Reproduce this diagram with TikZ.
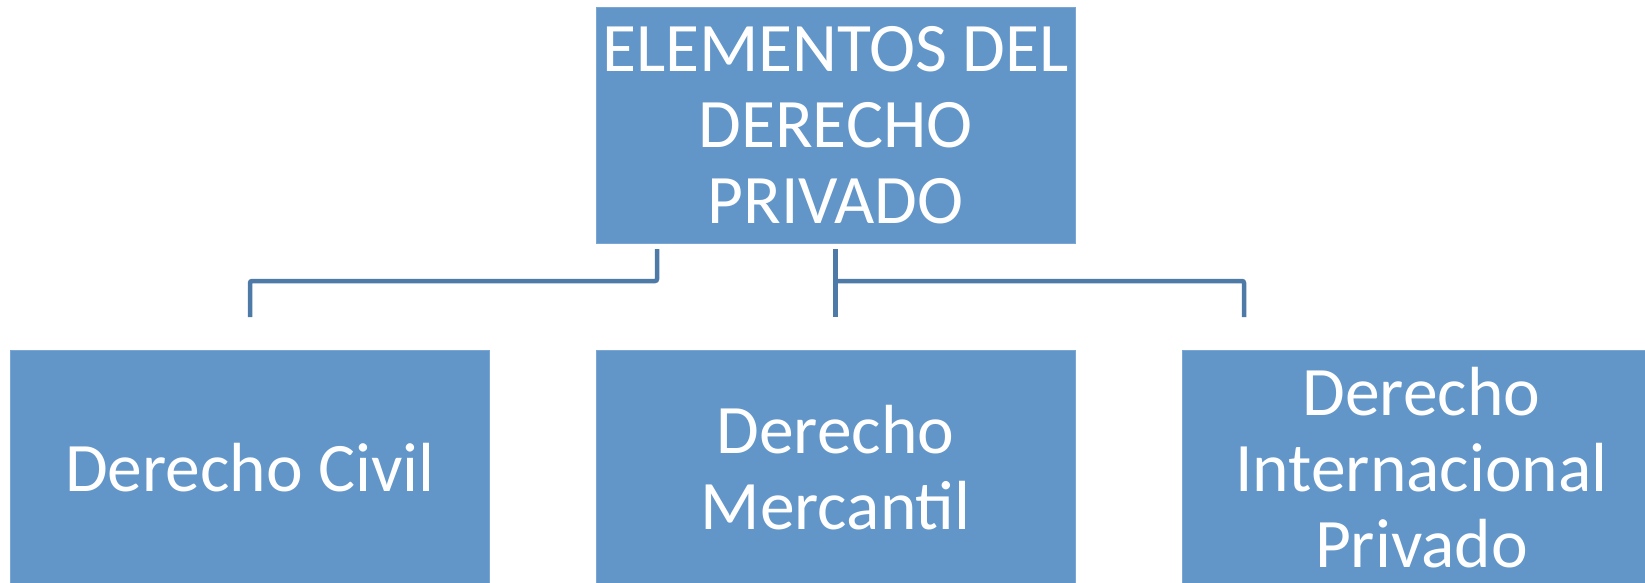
\documentclass[tikz,border=0pt]{standalone}
\usepackage{fontspec}
\setmainfont{Carlito}
\definecolor{boxblue}{RGB}{98,150,201}
\definecolor{boxedge}{RGB}{122,166,212}
\definecolor{linkblue}{RGB}{78,122,168}
\begin{document}
\begin{tikzpicture}[
		x=1pt,y=-1pt,
		box/.style={rectangle,fill=boxblue,draw=boxedge,line width=0.8pt,minimum width=479pt,minimum height=236pt,inner sep=0pt,text=white,align=center,font=\fontsize{69.5}{76}\selectfont},
		link/.style={draw=linkblue,line width=4.5pt,rounded corners=2pt}
		]
		\useasboundingbox (0,0) rectangle (1645,583);
		\clip (0,0) rectangle (1645,583);
		\node[box](top) at (835.5,125){ELEMENTOS DEL\\DERECHO\\PRIVADO};
		\node[box](civil) at (250,468){Derecho Civil};
		\node[box](merc) at (835.5,468){Derecho\\Mercantil};
		\node[box](intl) at (1421.5,468){Derecho\\Internacional\\Privado};
		
		\coordinate (c1) at (657,249);
		\coordinate (c2) at (250,317);
		\coordinate (c3) at (835.5,249);
		\coordinate (c4) at (835.5,317);
		\coordinate (c5) at (1244,317);
		\path[link] (c1) -- ++(0,32) -| (c2);
		\path[link] (c3) -- (c4);
		\path[link] (c3) ++(0,32) -| (c5);
		
		\end{tikzpicture}
\end{document}
